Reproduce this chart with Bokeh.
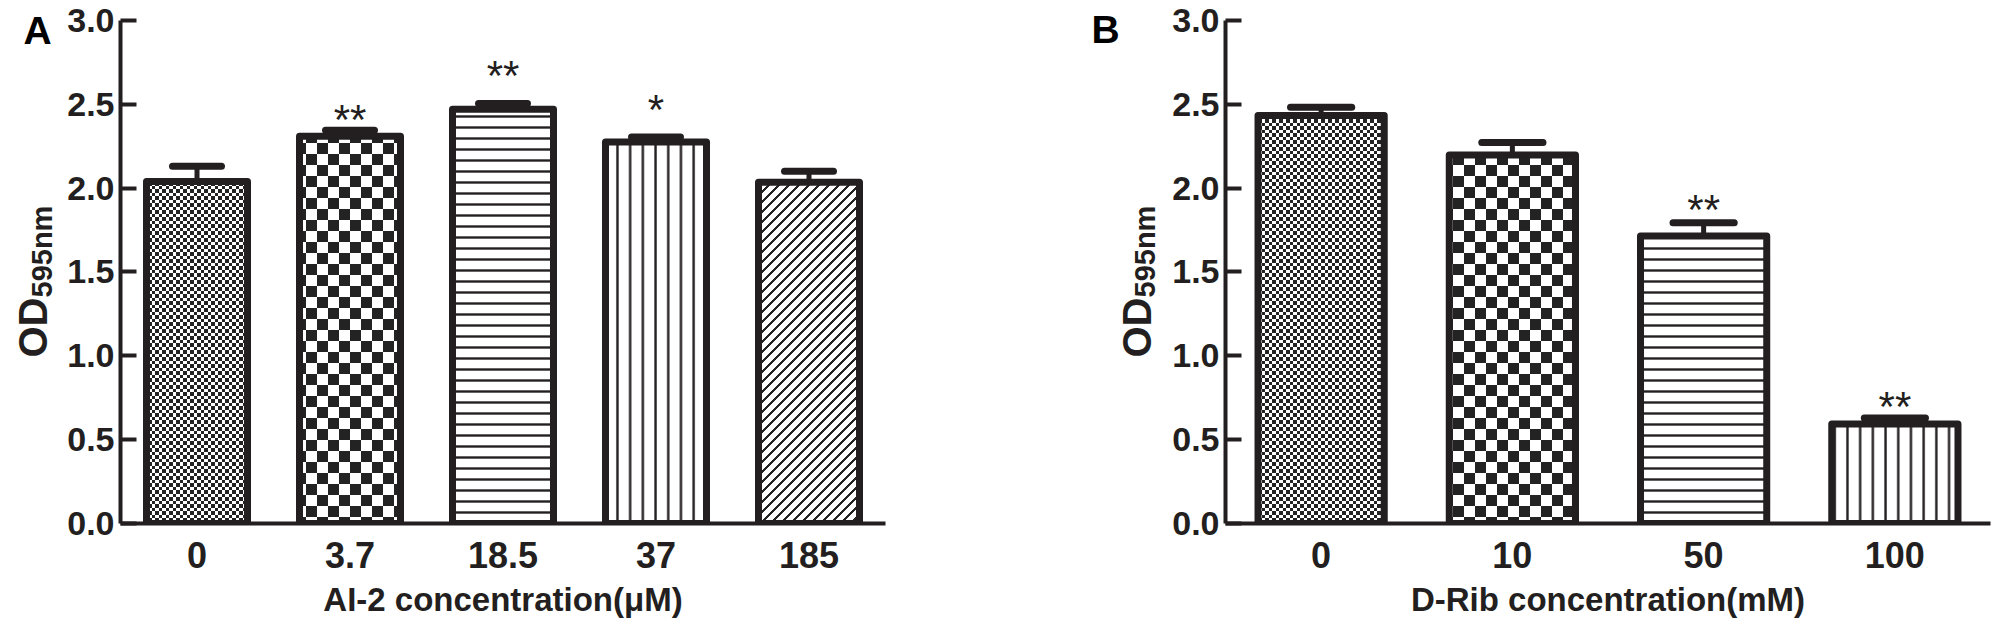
import math
import struct
import zlib
import base64
from bokeh.plotting import figure
from bokeh.layouts import row
from bokeh.models import Range1d, FixedTicker, ImageURLTexture, ColumnDataSource
from bokeh.core.properties import value
from bokeh.embed import file_html
from bokeh.resources import INLINE

# ---------------- data ----------------
cats_a = ["0", "3.7", "18.5", "37", "185"]
vals_a = [2.04, 2.31, 2.47, 2.275, 2.035]
errs_a = [0.09, 0.035, 0.035, 0.03, 0.065]
star_idx_a = [1, 2, 3]
star_txt_a = ["**", "**", "*"]
star_y_a = [2.41, 2.67, 2.47]

cats_b = ["0", "10", "50", "100"]
vals_b = [2.433, 2.197, 1.714, 0.594]
errs_b = [0.05, 0.075, 0.08, 0.035]
star_idx_b = [2, 3]
star_txt_b = ["**", "**"]
star_y_b = [1.87, 0.70]

yticks = [0.0, 0.5, 1.0, 1.5, 2.0, 2.5, 3.0]
ytitle_main = "OD"
ytitle_sub = "595nm"
xtitle_a = "AI-2 concentration(μM)"
xtitle_b = "D-Rib concentration(mM)"

# ---------------- styles ----------------
FONT = "Liberation Sans"
INK = "#231f20"
FIG_H = 634          # page y 8 .. 642
BORDER_BOTTOM = 111  # frame spans page y 8 .. 531
Y_AXIS_MAX = 3.0
Y_VIEW_TOP = 3.119   # room above the axis end for the panel letter


def png_uri(w, h, dark):
    """Tiny grayscale PNG tile used as a fill texture."""
    raw = b"".join(b"\x00" + bytes(0x23 if dark(x, y) else 0xFF for x in range(w))
                   for y in range(h))

    def chunk(tag, data):
        c = tag + data
        return struct.pack(">I", len(data)) + c + struct.pack(">I", zlib.crc32(c) & 0xFFFFFFFF)

    png = (b"\x89PNG\r\n\x1a\n"
           + chunk(b"IHDR", struct.pack(">IIBBBBB", w, h, 8, 0, 0, 0, 0))
           + chunk(b"IDAT", zlib.compress(raw, 9))
           + chunk(b"IEND", b""))
    return "data:image/png;base64," + base64.b64encode(png).decode()


fine_tex = ImageURLTexture(url=png_uri(7, 7, lambda x, y: (x < 4) == (y < 4)))
coarse_tex = ImageURLTexture(url=png_uri(22, 22, lambda x, y: (x < 11) == (y < 11)))
diag_tex = ImageURLTexture(url=png_uri(10, 10, lambda x, y: (x + y) % 10 in (8, 9, 0)))
HATCH_EXTRA = {"fine_checker": fine_tex, "coarse_checker": coarse_tex, "diag45": diag_tex}
HATCHES = [
    dict(hatch_pattern=value("fine_checker"), hatch_scale=7, hatch_weight=1),
    dict(hatch_pattern=value("coarse_checker"), hatch_scale=22, hatch_weight=1),
    dict(hatch_pattern=value("horizontal_line"), hatch_scale=11, hatch_weight=2.4),
    dict(hatch_pattern=value("vertical_line"), hatch_scale=12.7, hatch_weight=2.4),
    dict(hatch_pattern=value("diag45"), hatch_scale=10, hatch_weight=1),
]

BAR_W = 0.66
CAP_HALF = 0.16


def label_strip(width, letter, letter_x, letter_base, od_x, sub_x, junction_y):
    """Narrow figure whose data units are page pixels (y downward), for letter and y title."""
    p = figure(width=width, height=FIG_H, output_backend="svg", toolbar_location=None,
               x_range=Range1d(0, width), y_range=Range1d(531, 8),
               x_axis_location=None, y_axis_location=None,
               min_border_left=0, min_border_right=0, min_border_top=0,
               min_border_bottom=BORDER_BOTTOM)
    p.outline_line_color = None
    p.grid.visible = False
    p.text(x=[letter_x], y=[letter_base], text=[letter], text_font=value(FONT),
           text_font_style="bold", text_font_size=value("39px"), text_color="black",
           text_align="left", text_baseline="alphabetic")
    p.text(x=[od_x], y=[junction_y], text=[ytitle_main], angle=math.pi / 2,
           text_font=value(FONT), text_font_style="bold", text_font_size=value("40px"),
           text_color=INK, text_align="right", text_baseline="alphabetic")
    p.text(x=[sub_x], y=[junction_y], text=[ytitle_sub], angle=math.pi / 2,
           text_font=value(FONT), text_font_style="bold", text_font_size=value("29px"),
           text_color=INK, text_align="left", text_baseline="alphabetic")
    return p


def make_panel(cats, vals, errs, s_idx, s_txt, s_y, xtitle, width, border_left, border_right):
    n = len(cats)
    p = figure(width=width, height=FIG_H, output_backend="svg", toolbar_location=None,
               x_range=Range1d(-0.5, n - 0.5), y_range=Range1d(0, Y_VIEW_TOP),
               min_border_left=border_left, min_border_right=border_right,
               min_border_top=0, min_border_bottom=BORDER_BOTTOM)
    p.outline_line_color = None
    p.xgrid.visible = False
    p.ygrid.visible = False

    idx = list(range(n))
    tops = [v + e for v, e in zip(vals, errs)]

    # error stems and caps
    p.segment(x0=idx, y0=vals, x1=idx, y1=tops, line_color=INK, line_width=5)
    p.segment(x0=[i - CAP_HALF for i in idx], y0=tops, x1=[i + CAP_HALF for i in idx],
              y1=tops, line_color=INK, line_width=7, line_cap="round")

    for i in idx:
        p.vbar(x=[i], top=[vals[i]], bottom=0, width=BAR_W, fill_color="white",
               line_color=INK, line_width=7, line_join="round",
               hatch_color=INK, hatch_extra=HATCH_EXTRA, **HATCHES[i])

    src = ColumnDataSource(dict(x=s_idx, y=s_y, t=s_txt))
    p.text(x="x", y="y", text="t", source=src, text_font=value(FONT),
           text_font_size=value("42px"), text_color=INK,
           text_align="center", text_baseline="middle")

    xa = p.xaxis[0]
    xa.ticker = FixedTicker(ticks=idx)
    xa.major_label_overrides = {i: c for i, c in enumerate(cats)}
    xa.axis_line_width = 4
    xa.axis_line_color = INK
    xa.major_tick_in = 0
    xa.major_tick_out = 0
    xa.minor_tick_in = 0
    xa.minor_tick_out = 0
    xa.major_label_text_font = FONT
    xa.major_label_text_font_style = "bold"
    xa.major_label_text_font_size = "36px"
    xa.major_label_text_color = INK
    xa.major_label_standoff = 18
    xa.axis_label = xtitle
    xa.axis_label_text_font = FONT
    xa.axis_label_text_font_style = "bold"
    xa.axis_label_text_font_size = "33px"
    xa.axis_label_text_color = INK
    xa.axis_label_standoff = 10

    ya = p.yaxis[0]
    ya.bounds = (0, Y_AXIS_MAX)
    ya.ticker = FixedTicker(ticks=yticks)
    ya.major_label_overrides = {t: f"{t:.1f}" for t in yticks}
    ya.axis_line_width = 4
    ya.axis_line_color = INK
    ya.major_tick_in = 16
    ya.major_tick_out = 0
    ya.major_tick_line_width = 4
    ya.major_tick_line_color = INK
    ya.minor_tick_in = 0
    ya.minor_tick_out = 0
    ya.major_label_text_font = FONT
    ya.major_label_text_font_style = "bold"
    ya.major_label_text_font_size = "34px"
    ya.major_label_text_color = INK
    ya.major_label_standoff = 6
    return p


# page x: strip A 8..72, panel A 72..1090 (frame 128..893), strip B 1090..1175, panel B 1175..1999
la = label_strip(64, "A", 31, 38, 40, 49, 305)
pa = make_panel(cats_a, vals_a, errs_a, star_idx_a, star_txt_a, star_y_a, xtitle_a, 1018, 56, 197)
lb = label_strip(85, "B", 9, 37, 54, 62, 305)
pb = make_panel(cats_b, vals_b, errs_b, star_idx_b, star_txt_b, star_y_b, xtitle_b, 824, 58, 1)

# strip A data x is page x minus 8; strip B data x is page x minus 1090
la.x_range = Range1d(8, 72)

layout = row(la, pa, lb, pb)
open("out.html", "w").write(file_html(layout, INLINE))
